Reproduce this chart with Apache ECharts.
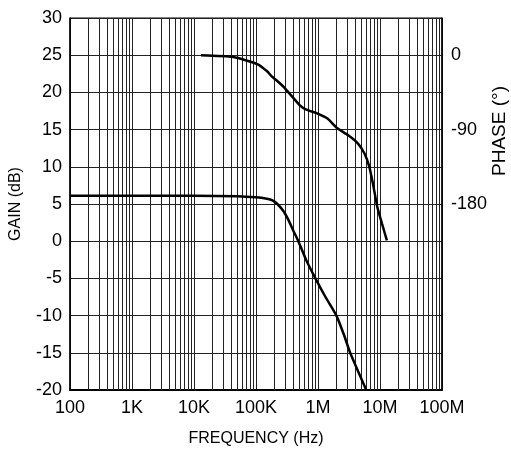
<!DOCTYPE html>
<html>
<head>
<meta charset="utf-8">
<script src="https://cdn.jsdelivr.net/npm/echarts@6/dist/echarts.min.js"></script>
<style>
html,body{margin:0;padding:0;background:#fff;}
#chart{width:511px;height:453px;}
</style>
</head>
<body>
<div id="chart"></div>
<script>
// Data (frequency in Hz)
var gainFreq = [100, 1000, 10000, 50000, 100000, 150000, 184000, 221000, 280000, 336000, 400000, 482000, 650000, 908000, 1300000, 1980000, 2600000, 3300000, 4500000, 6000000];
var gainDb   = [6.1, 6.1, 6.1, 6.05, 5.9, 5.7, 5.5, 5.0, 4.0, 2.8, 1.4, 0, -2.6, -5, -7.4, -10, -12.5, -15, -17.6, -20];

var phaseFreq = [13000, 43000, 107000, 154000, 173000, 281000, 510000, 650000, 990000, 1420000, 2030000, 3080000, 4420000, 5620000, 6730000, 7860000, 9070000, 10800000, 12900000];
var phaseDeg  = [0, -2.2, -11, -20, -24.3, -38.5, -60.6, -65.8, -70.6, -76.7, -88.1, -96.9, -106.9, -119, -135, -159, -184, -204, -224];

var xTickLabels = {100: '100', 1000: '1K', 10000: '10K', 100000: '100K', 1000000: '1M', 10000000: '10M', 100000000: '100M'};
var phaseTickLabels = [0, -90, -180];

function pairs(xs, ys) {
  var out = [];
  for (var i = 0; i < xs.length; i++) out.push([xs[i], ys[i]]);
  return out;
}

// vertical grid lines at 2..9 x each decade
var minorGridFreqs = [];
for (var d = 100; d < 1e8; d *= 10) {
  for (var m = 2; m <= 9; m++) minorGridFreqs.push(d * m);
}

var font = 'Liberation Sans, Arial, sans-serif';
var gridColor = '#222';

var chart = echarts.init(document.getElementById('chart'));
chart.setOption({
  animation: false,
  backgroundColor: '#fff',
  grid: {left: 70, right: 69, top: 18, bottom: 63, show: true, borderColor: '#000', borderWidth: 1},
  xAxis: {
    type: 'log', logBase: 10, min: 100, max: 1e8,
    name: 'FREQUENCY (Hz)', nameLocation: 'middle', nameGap: 41,
    nameTextStyle: {fontFamily: font, fontSize: 16, color: '#000'},
    axisLine: {onZero: false, lineStyle: {color: '#000', width: 2}},
    axisTick: {show: false},
    axisLabel: {fontFamily: font, fontSize: 18, color: '#000', margin: 9,
      formatter: function (v) { return xTickLabels[Math.round(v)] || ''; }},
    splitLine: {show: true, lineStyle: {color: gridColor, width: 1}},
    minorSplitLine: {show: false}
  },
  yAxis: [{
    type: 'value', min: -20, max: 30, interval: 5,
    name: 'GAIN (dB)', nameLocation: 'middle', nameGap: 46, nameRotate: 90,
    nameTextStyle: {fontFamily: font, fontSize: 16, color: '#000'},
    axisLine: {show: true, onZero: false, lineStyle: {color: '#000', width: 1.5}},
    axisTick: {show: false},
    axisLabel: {fontFamily: font, fontSize: 18, color: '#000', margin: 8},
    splitLine: {show: true, lineStyle: {color: gridColor, width: 1}}
  }, {
    type: 'value', min: -405, max: 45, interval: 45, position: 'right',
    axisLine: {show: true, onZero: false, lineStyle: {color: '#000', width: 1.5}},
    axisTick: {show: false},
    axisLabel: {fontFamily: font, fontSize: 18, color: '#000', margin: 9,
      formatter: function (v) { return phaseTickLabels.indexOf(v) >= 0 ? String(v) : ''; }},
    splitLine: {show: false}
  }],
  graphic: [{
    type: 'text', left: 490, top: 86, rotation: Math.PI / 2,
    style: {text: 'PHASE (°)', font: '19px ' + font, fill: '#000'}
  }],
  series: [{
    type: 'line', name: 'gain', data: pairs(gainFreq, gainDb), yAxisIndex: 0,
    showSymbol: false, smooth: 0.2,
    lineStyle: {color: '#000', width: 2.5},
    markLine: {
      silent: true, symbol: 'none', label: {show: false},
      lineStyle: {color: gridColor, width: 1, type: 'solid'},
      data: minorGridFreqs.map(function (f) { return {xAxis: f}; }),
      z: 1
    },
    z: 5
  }, {
    type: 'line', name: 'phase', data: pairs(phaseFreq, phaseDeg), yAxisIndex: 1,
    showSymbol: false, smooth: 0.2,
    lineStyle: {color: '#000', width: 2.5},
    z: 5
  }]
});
</script>
</body>
</html>
